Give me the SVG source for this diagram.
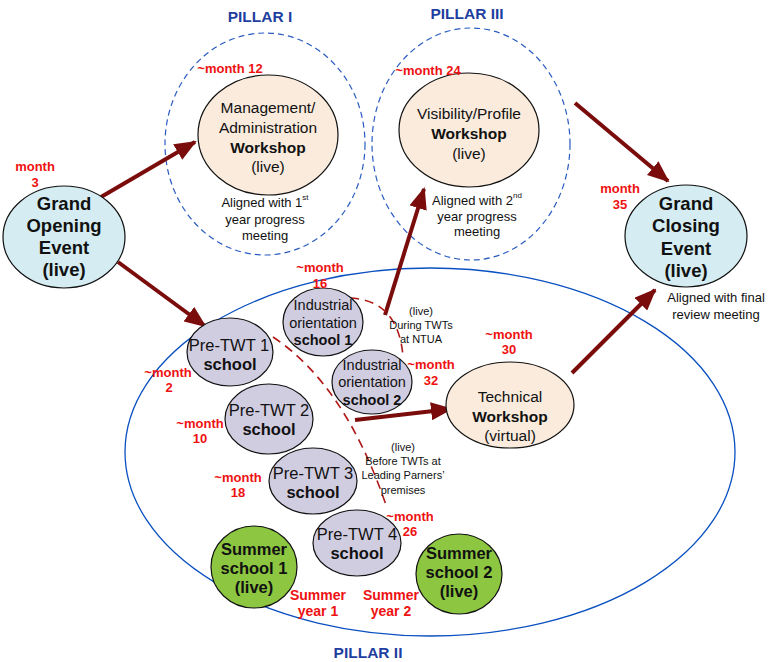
<svg xmlns="http://www.w3.org/2000/svg" width="770" height="662" viewBox="0 0 770 662">
<defs>
<marker id="ah" markerUnits="userSpaceOnUse" markerWidth="22" markerHeight="18" refX="20" refY="9" orient="auto">
<path d="M0,0 L22,9 L0,18 Z" fill="#7A0C0C"/>
</marker>
<style>
text{font-family:"Liberation Sans",Arial,sans-serif;dominant-baseline:central;text-anchor:middle;fill:#111}
.pil{font-size:15.5px;font-weight:bold;fill:#1F3FA0}
.mo{font-size:13px;font-weight:bold;fill:#EE1111}
.n{font-size:15.5px}
.p{font-size:16.5px}
.i{font-size:14.5px}
.b{font-weight:bold}
.big{font-size:18.5px;font-weight:bold}
.sm{font-size:11px}
.al{font-size:13px}
.sy{font-size:14px;font-weight:bold;fill:#EE1111}
.peach{fill:#FAEBDD;stroke:#111;stroke-width:1.2}
.blue{fill:#D5EDF2;stroke:#111;stroke-width:1.2}
.lav{fill:#D1CDE1;stroke:#111;stroke-width:1.2}
.grn{fill:#8DC641;stroke:#111;stroke-width:1.2}
.pd{fill:none;stroke:#2A5CC0;stroke-width:1.2;stroke-dasharray:6,4}
.arr{stroke:#7A0C0C;stroke-width:4;fill:none;marker-end:url(#ah)}
.rd{stroke:#B01818;stroke-width:1.6;fill:none;stroke-dasharray:9,6}
</style>
</defs>
<rect width="770" height="662" fill="#fff"/>

<g id="pillars">
<ellipse class="pd" cx="265" cy="144" rx="100" ry="111"/>
<ellipse class="pd" cx="471" cy="144" rx="99" ry="116"/>
<ellipse cx="430" cy="452" rx="305" ry="184" fill="none" stroke="#0A50C0" stroke-width="1.3"/>
<text class="pil" x="260" y="16">PILLAR I</text>
<text class="pil" x="467" y="13">PILLAR III</text>
<text class="pil" x="368" y="652">PILLAR II</text>
</g>

<g id="connectors">
<path class="arr" d="M101,197 L195,142"/>
<path class="arr" d="M118,262 L205,326"/>
<path class="arr" d="M385,315 L424,189"/>
<path class="arr" d="M355,420 L451,409"/>
<path class="arr" d="M572,373 L655,290"/>
<path class="arr" d="M575,103 L668,181"/>
<path class="rd" d="M273,337 Q345,385 386,505"/>
<path class="rd" d="M350,298 Q398,300 403,356"/>
</g>

<g id="grand-opening">
<ellipse class="blue" cx="64" cy="237" rx="61" ry="51"/>
<text class="big" x="64" y="203">Grand</text>
<text class="big" x="64" y="225">Opening</text>
<text class="big" x="64" y="247">Event</text>
<text class="big" x="64" y="269">(live)</text>
<text class="mo" x="35" y="166">month</text>
<text class="mo" x="35" y="182">3</text>
</g>

<g id="management-workshop">
<ellipse class="peach" cx="268" cy="135" rx="70" ry="60"/>
<text class="n" x="268" y="107">Management/</text>
<text class="n" x="268" y="127">Administration</text>
<text class="n b" x="268" y="147">Workshop</text>
<text class="n" x="268" y="166">(live)</text>
<text class="mo" x="230" y="68">~month 12</text>
<text class="al" x="265" y="202">Aligned with 1<tspan font-size="8" dy="-5">st</tspan></text>
<text class="al" x="265" y="219">year progress</text>
<text class="al" x="265" y="235">meeting</text>
</g>

<g id="visibility-workshop">
<ellipse class="peach" cx="469" cy="130" rx="70" ry="57"/>
<text class="n" x="469" y="113">Visibility/Profile</text>
<text class="n b" x="469" y="133">Workshop</text>
<text class="n" x="469" y="153">(live)</text>
<text class="mo" x="428" y="70">~month 24</text>
<text class="al" x="477" y="200">Aligned with 2<tspan font-size="8" dy="-5">nd</tspan></text>
<text class="al" x="477" y="216">year progress</text>
<text class="al" x="477" y="231">meeting</text>
</g>

<g id="grand-closing">
<ellipse class="blue" cx="686" cy="236" rx="61" ry="51"/>
<text class="big" x="686" y="203">Grand</text>
<text class="big" x="686" y="225">Closing</text>
<text class="big" x="686" y="248">Event</text>
<text class="big" x="686" y="270">(live)</text>
<text class="mo" x="620" y="188">month</text>
<text class="mo" x="620" y="204">35</text>
<text class="al" x="716" y="297">Aligned with final</text>
<text class="al" x="716" y="314">review meeting</text>
</g>

<g id="pre-twt-1">
<ellipse class="lav" cx="230" cy="352" rx="43" ry="34"/>
<text class="p" x="229" y="345">Pre-TWT 1</text>
<text class="p b" x="230" y="364">school</text>
<text class="mo" x="168" y="372">~month</text>
<text class="mo" x="169" y="387">2</text>
</g>

<g id="industrial-1">
<ellipse class="lav" cx="323" cy="322" rx="40" ry="34"/>
<text class="i" x="323" y="305">Industrial</text>
<text class="i" x="323" y="323">orientation</text>
<text class="i b" x="323" y="340">school 1</text>
<text class="mo" x="320" y="267">~month</text>
<text class="mo" x="320" y="283">16</text>
</g>

<g id="industrial-2">
<ellipse class="lav" cx="372" cy="382" rx="40" ry="32"/>
<text class="i" x="372" y="365">Industrial</text>
<text class="i" x="372" y="382">orientation</text>
<text class="i b" x="372" y="400">school 2</text>
<text class="mo" x="431" y="364">~month</text>
<text class="mo" x="431" y="380">32</text>
</g>

<g id="ntua-note">
<text class="sm" x="421" y="311">(live)</text>
<text class="sm" x="421" y="325">During TWTs</text>
<text class="sm" x="421" y="339">at NTUA</text>
</g>

<g id="pre-twt-2">
<ellipse class="lav" cx="269" cy="419" rx="44" ry="35"/>
<text class="p" x="269" y="410">Pre-TWT 2</text>
<text class="p b" x="269" y="429">school</text>
<text class="mo" x="200" y="423">~month</text>
<text class="mo" x="200" y="438">10</text>
</g>

<g id="pre-twt-3">
<ellipse class="lav" cx="313" cy="481" rx="44" ry="33"/>
<text class="p" x="313" y="473">Pre-TWT 3</text>
<text class="p b" x="313" y="492">school</text>
<text class="mo" x="238" y="477">~month</text>
<text class="mo" x="238" y="492">18</text>
</g>

<g id="pre-twt-4">
<ellipse class="lav" cx="357" cy="543" rx="44" ry="33"/>
<text class="p" x="357" y="534">Pre-TWT 4</text>
<text class="p b" x="357" y="553">school</text>
<text class="mo" x="410" y="516">~month</text>
<text class="mo" x="410" y="531">26</text>
</g>

<g id="partners-note">
<text class="sm" x="403" y="447">(live)</text>
<text class="sm" x="403" y="461">Before TWTs at</text>
<text class="sm" x="403" y="475">Leading Parners’</text>
<text class="sm" x="403" y="490">premises</text>
</g>

<g id="technical-workshop">
<ellipse class="peach" cx="510" cy="405" rx="64" ry="43"/>
<text class="n" x="510" y="396">Technical</text>
<text class="n b" x="510" y="416">Workshop</text>
<text class="n" x="510" y="435">(virtual)</text>
<text class="mo" x="509" y="334">~month</text>
<text class="mo" x="509" y="349">30</text>
</g>

<g id="summer-1">
<ellipse class="grn" cx="254" cy="567" rx="43" ry="41"/>
<text class="p b" x="254" y="549">Summer</text>
<text class="p b" x="254" y="568">school 1</text>
<text class="p b" x="254" y="587">(live)</text>
<text class="sy" x="318" y="595">Summer</text>
<text class="sy" x="318" y="611">year 1</text>
</g>

<g id="summer-2">
<ellipse class="grn" cx="459" cy="574" rx="43" ry="40"/>
<text class="p b" x="459" y="553">Summer</text>
<text class="p b" x="459" y="572">school 2</text>
<text class="p b" x="459" y="591">(live)</text>
<text class="sy" x="391" y="595">Summer</text>
<text class="sy" x="391" y="611">year 2</text>
</g>
</svg>
